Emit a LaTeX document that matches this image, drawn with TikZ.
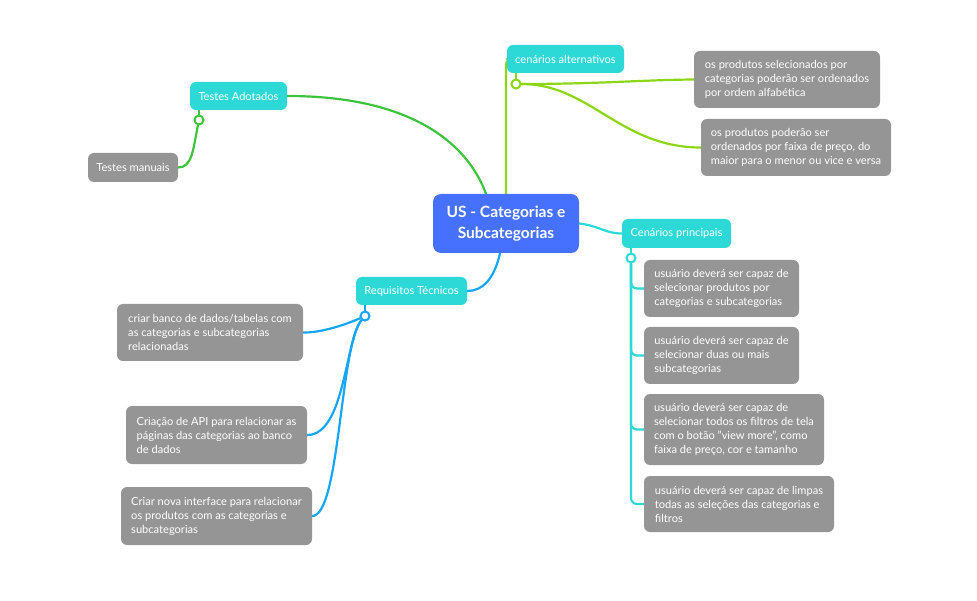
\documentclass[tikz,border=0pt]{standalone}
\usepackage{fontspec}
\setmainfont{Lato}
\usetikzlibrary{backgrounds}
\definecolor{teal1}{HTML}{2CD9D7}
\definecolor{leafgray}{HTML}{959595}
\definecolor{centralblue}{HTML}{4671FF}
\definecolor{lgreen}{HTML}{3CC43C}
\definecolor{llime}{HTML}{8CD617}
\definecolor{lblue}{HTML}{16A6F5}
\tikzset{
  box/.style={rounded corners=6pt, text=white, align=left, inner sep=0pt,
    font=\fontsize{11.1}{14}\selectfont},
  topic/.style={box, fill=teal1},
  leaf/.style={box, fill=leafgray},
  centre/.style={rounded corners=8pt, fill=centralblue, text=white, align=center,
    font=\fontsize{15.5}{21}\selectfont\bfseries},
  conn/.style={line width=2.2pt, line cap=round},
  knob/.style={circle, draw, fill=white, line width=2pt, minimum size=9pt, inner sep=0pt},
}
\begin{document}
\begin{tikzpicture}[x=1pt,y=-1pt]
\useasboundingbox (0,0) rectangle (977,601);
% central
\node[centre, minimum width=146pt, minimum height=59pt] (central) at (506,223.5) {US - Categorias e\\Subcategorias};
% topics
\node[topic, minimum width=97pt, minimum height=28pt] (ta) at (238.5,96) {Testes Adotados};
\node[topic, minimum width=117pt, minimum height=28pt] (ca) at (565.5,59) {cenários alternativos};
\node[topic, minimum width=109pt, minimum height=29pt] (cp) at (676.5,233.5) {Cenários principais};
\node[topic, minimum width=111pt, minimum height=28pt] (rt) at (411.5,291) {Requisitos Técnicos};
% leaves
\node[leaf, minimum width=90pt, minimum height=29pt] (tm) at (133,167.5) {Testes manuais};
\node[leaf, minimum width=186pt, minimum height=57pt] (al1) at (787,79.5) {os produtos selecionados por\\categorias poderão ser ordenados\\por ordem alfabética};
\node[leaf, minimum width=190pt, minimum height=57pt] (al2) at (796,147.5) {os produtos poderão ser\\ordenados por faixa de preço, do\\maior para o menor ou vice e versa};
\node[leaf, minimum width=155pt, minimum height=57pt] (p1) at (721.5,288.5) {usuário deverá ser capaz de\\selecionar produtos por\\categorias e subcategorias};
\node[leaf, minimum width=155pt, minimum height=57pt] (p2) at (721.5,355.5) {usuário deverá ser capaz de\\selecionar duas ou mais\\subcategorias};
\node[leaf, minimum width=180pt, minimum height=71pt] (p3) at (734,429.5) {usuário deverá ser capaz de\\selecionar todos os filtros de tela\\com o botão "view more", como\\faixa de preço, cor e tamanho};
\node[leaf, minimum width=190pt, minimum height=56pt] (p4) at (739,504) {usuário deverá ser capaz de limpas\\todas as seleções das categorias e\\filtros};
\node[leaf, minimum width=186pt, minimum height=57pt] (r1) at (210,332.5) {criar banco de dados/tabelas com\\as categorias e subcategorias\\relacionadas};
\node[leaf, minimum width=181pt, minimum height=58pt] (r2) at (216.5,435) {Criação de API para relacionar as\\páginas das categorias ao banco\\de dados};
\node[leaf, minimum width=191pt, minimum height=58pt] (r3) at (216.5,516) {Criar nova interface para relacionar\\os produtos com as categorias e\\subcategorias};
% knobs
\node[knob, draw=lgreen] (tac) at (199,120) {};
\node[knob, draw=llime] (cac) at (516,84) {};
\node[knob, draw=teal1] (cpc) at (631,258) {};
\node[knob, draw=lblue] (rtc) at (365,316) {};
\begin{scope}[on background layer]
% central to topics
\draw[conn, lgreen] ([xshift=-20pt]central.north) .. controls (470,150) and (420,96) .. (ta.east);
\draw[conn, llime, rounded corners=6pt] (central.north) |- (ca.west);
\draw[conn, teal1] (central.east) .. controls (600,226) and (605,233.5) .. (cp.west);
\draw[conn, lblue] ([xshift=-6pt]central.south) .. controls (494,280) and (482,291) .. (rt.east);
% stubs
\draw[conn, lgreen] (tac |- ta.south) -- (tac);
\draw[conn, llime] (cac |- ca.south) -- (cac);
\draw[conn, teal1] (cpc |- cp.south) -- (cpc);
\draw[conn, lblue] (rtc |- rt.south) -- (rtc);
% Testes Adotados
\draw[conn, lgreen] (tac) .. controls (193,150) and (192,167.5) .. (tm.east);
% cenarios alternativos
\draw[conn, llime] (cac) .. controls (600,84) and (640,80) .. (al1.west);
\draw[conn, llime] (cac) .. controls (590,84) and (620,147.5) .. (al2.west);
% Cenarios principais
\draw[conn, teal1, rounded corners=6pt] (cpc) |- (p1.west);
\draw[conn, teal1, rounded corners=6pt] (cpc) |- (p2.west);
\draw[conn, teal1, rounded corners=6pt] (cpc) |- (p3.west);
\draw[conn, teal1, rounded corners=6pt] (cpc) |- (p4.west);
% Requisitos
\draw[conn, lblue] (rtc) .. controls (345,325) and (320,333) .. (r1.east);
\draw[conn, lblue] (rtc) .. controls (345,340) and (345,435) .. (r2.east);
\draw[conn, lblue] (rtc) .. controls (340,345) and (340,516) .. (r3.east);
\end{scope}
\end{tikzpicture}
\end{document}
